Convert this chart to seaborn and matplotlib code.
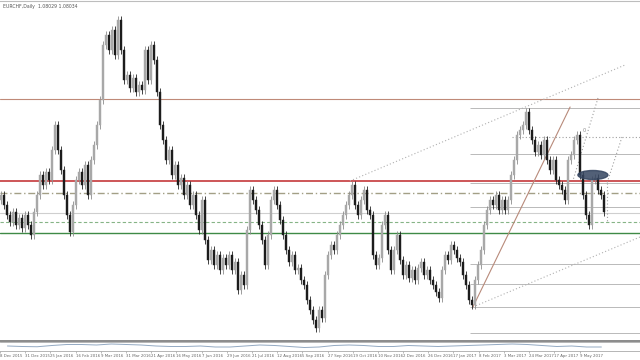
import numpy as np
import pandas as pd
import matplotlib
matplotlib.use("Agg")
import matplotlib.pyplot as plt
from matplotlib.patches import Ellipse
import seaborn as sns

# ---------------- data ----------------
symbol_title = "EURCHF,Daily  1.08029 1.08034"

# closes (one bar every two sessions), in 1e-4 price units
close_pips = [
    10840, 10820, 10800, 10786, 10806, 10780, 10794, 10774, 10800, 10780,
    10760, 10806, 10840, 10880, 10860, 10886, 10870, 10930, 10980, 10930,
    10890, 10840, 10800, 10766, 10820, 10870, 10886, 10860, 10900, 10840,
    10910, 10940, 10980, 11030, 11140, 11160, 11130, 11170, 11120, 11190,
    11130, 11070, 11080, 11054, 11074, 11046, 11060, 11050, 11130, 11070,
    11140, 11110, 11046, 10980, 10950, 10910, 10930, 10880, 10900, 10860,
    10874, 10840, 10860, 10820, 10840, 10800, 10770, 10830, 10750, 10710,
    10730, 10700, 10720, 10690, 10714, 10700, 10720, 10690, 10706, 10650,
    10680, 10660, 10770, 10850, 10830, 10810, 10780, 10750, 10700, 10760,
    10830, 10850, 10820, 10790, 10760, 10730, 10706, 10720, 10690, 10694,
    10670, 10660, 10630, 10610, 10590, 10574, 10610, 10594, 10680, 10720,
    10740, 10730, 10760, 10780, 10800, 10820, 10840, 10860, 10820, 10800,
    10830, 10850, 10810, 10800, 10720, 10700, 10714, 10780, 10800, 10730,
    10690, 10730, 10760, 10710, 10680, 10700, 10674, 10690, 10670, 10694,
    10706, 10680, 10690, 10670, 10660, 10646, 10634, 10690, 10720, 10710,
    10740, 10730, 10714, 10706, 10680, 10660, 10630, 10620, 10670, 10700,
    10730, 10780, 10810, 10830, 10820, 10840, 10810, 10830, 10810, 10830,
    10880, 10910, 10960, 10970, 10980, 11006, 10970, 10950, 10926, 10940,
    10920, 10950, 10910, 10890, 10910, 10870, 10860, 10850, 10830, 10910,
    10920, 10950, 10960, 10880, 10840, 10800, 10780, 10870, 10874, 10850,
    10840, 10806,
]
first_open = 10830

# oscillator (sub window), one value every five bars
osc_values = [50, 46, 44, 54, 62, 62, 58, 66, 62, 58, 50, 46, 46, 50, 42, 42,
              50, 58, 54, 46, 38, 42, 54, 58, 54, 46, 46, 54, 50, 46, 50, 54,
              58, 62, 66, 62, 54, 46, 50, 42, 42]

# full-width horizontal levels
lvl_brown = 1.1032
lvl_red = 1.0868
lvl_dashdot = 1.0844
lvl_grey = 1.0804
lvl_green_dash = 1.0786
lvl_green = 1.0764

# fibonacci-like grey levels on the right (start bar, levels)
fib_start_bar = 156.3
fib_levels = [1.1014, 1.0922, 1.0864, 1.0816, 1.0702, 1.0662, 1.0616, 1.0564]

# trend lines: ((bar, price), (bar, price))
channel_upper = [(116.3, 1.0868), (208.0, 1.1100)]
channel_lower = [(157.3, 1.0616), (213.0, 1.0756)]
trend_solid = [(157.3, 1.0616), (189.7, 1.1016)]
dotted_a = [(199.0, 1.1034), (190.7, 1.0870)]
dotted_b = [(207.0, 1.0956), (202.0, 1.0864)]
dotted_v = [(202.0, 1.0864), (202.0, 1.0786)]
dotted_h = [(170.3, 1.0956), (213.0, 1.0956)]

ellipse_center = (197.3, 1.0880)
ellipse_size = (10.0, 0.0018)

tick_labels = ["8 Dec 2015", "31 Dec 2015", "25 Jan 2016", "16 Feb 2016", "9 Mar 2016",
               "31 Mar 2016", "21 Apr 2016", "16 May 2016", "7 Jun 2016", "29 Jun 2016",
               "21 Jul 2016", "12 Aug 2016", "5 Sep 2016", "27 Sep 2016", "19 Oct 2016",
               "10 Nov 2016", "2 Dec 2016", "26 Dec 2016", "17 Jan 2017", "8 Feb 2017",
               "3 Mar 2017", "24 Mar 2017", "17 Apr 2017", "9 May 2017"]
tick_bars = [-2.5, 6.0, 14.5, 23.0, 31.5, 39.9, 48.4, 56.9, 65.4, 73.9, 82.4, 90.8,
             99.3, 107.8, 116.3, 124.8, 133.3, 141.7, 150.2, 158.7, 167.2, 175.7,
             184.2, 192.7]

# ---------------- build frame ----------------
close = np.array(close_pips) / 10000.0
opn = np.r_[first_open / 10000.0, close[:-1]]
df = pd.DataFrame({"bar": np.arange(len(close)), "open": opn, "close": close})
df["high"] = df[["open", "close"]].max(axis=1) + 0.0008
df["low"] = df[["open", "close"]].min(axis=1) - 0.0008
df["up"] = df["close"] >= df["open"]

osc_df = pd.DataFrame({"bar": np.arange(len(osc_values)) * 5, "osc": osc_values})

# ---------------- plot ----------------
sns.set_theme(style="white")
plt.rcParams["font.family"] = ["DejaVu Sans"]

fig = plt.figure(figsize=(6.4, 3.6), dpi=100)
fig.patch.set_facecolor("white")
ax = fig.add_axes([0, 19 / 360, 1, 340 / 360])
axo = fig.add_axes([0, 9 / 360, 1, 9 / 360])

xlim = (-1 / 3, 213.0)
ax.set_xlim(*xlim)
ax.set_ylim(1.0548, 1.1228)

# horizontal levels
ax.axhline(lvl_brown, color="#bf8a78", lw=0.8, zorder=1)
ax.axhline(lvl_red, color="#c9484a", lw=1.3, zorder=1)
ax.axhline(lvl_dashdot, color="#a39f86", lw=1.0, ls=(0, (5, 2, 1, 2)), zorder=1)
ax.axhline(lvl_grey, color="#cfcfcf", lw=0.8, zorder=1)
ax.axhline(lvl_green_dash, color="#86b486", lw=0.8, ls=(0, (3, 2)), zorder=1)
ax.axhline(lvl_green, color="#3f8a46", lw=1.0, zorder=1)

for lv in fib_levels:
    ax.hlines(lv, fib_start_bar, xlim[1], color="#b9b9b9", lw=0.7, zorder=1)

# trend lines
def seg(pts, **kw):
    d = pd.DataFrame(pts, columns=["bar", "price"])
    sns.lineplot(data=d, x="bar", y="price", ax=ax, sort=False, estimator=None, legend=False, **kw)

seg(channel_upper, color="#b0b0b0", lw=0.8, linestyle=(0, (1, 2)))
seg(channel_lower, color="#b0b0b0", lw=0.8, linestyle=(0, (1, 2)))
seg(trend_solid, color="#b88a7a", lw=0.8)
seg(dotted_a, color="#a0a0a0", lw=0.8, linestyle=(0, (1, 2)))
seg(dotted_b, color="#a0a0a0", lw=0.8, linestyle=(0, (1, 2)))
seg(dotted_v, color="#a0a0a0", lw=0.8, linestyle=(0, (1, 2)))
seg(dotted_h, color="#a0a0a0", lw=0.8, linestyle=(0, (1, 2)))

# candles
wick_col = np.where(df["up"], "#8c8c8c", "#222222")
body_col = np.where(df["up"], "#a8a8a8", "#1c1c1c")
ax.vlines(df["bar"], df["low"], df["high"], colors=wick_col, lw=0.6, zorder=3)
heights = (df["close"] - df["open"]).where((df["close"] - df["open"]).abs() > 0.0001, 0.0001)
ax.bar(df["bar"], heights, bottom=df["open"], width=0.8, color=body_col,
       edgecolor=body_col, linewidth=0.3, zorder=4)

# ellipse marker
ax.add_patch(Ellipse(ellipse_center, ellipse_size[0], ellipse_size[1],
                     facecolor="#34445f", edgecolor="#34445f", alpha=0.85, zorder=5))
ax.text(194.0, 1.0966, "0", fontsize=3.5, color="#888888")

# title
ax.text(0.004, 0.992, symbol_title, transform=ax.transAxes, fontsize=3.3,
        color="#555555", va="top", ha="left")

ax.set_xticks([])
ax.set_yticks([])
ax.set_xlabel("")
ax.set_ylabel("")
for s in ["left", "right"]:
    ax.spines[s].set_visible(False)
ax.spines["top"].set_color("#bdbdbd")
ax.spines["bottom"].set_color("#777777")
ax.spines["top"].set_linewidth(0.8)
ax.spines["bottom"].set_linewidth(1.2)

# oscillator
sns.lineplot(data=osc_df, x="bar", y="osc", ax=axo, color="#93a9c2", lw=0.7)
axo.set_xlim(*xlim)
axo.set_ylim(10, 82)
axo.set_yticks([])
axo.set_ylabel("")
axo.set_xlabel("")
axo.set_xticks(tick_bars)
axo.set_xticklabels(tick_labels)
axo.tick_params(axis="x", labelsize=2.8, labelcolor="#666666", length=1.5, width=0.4,
                color="#888888", pad=0.8, bottom=True)
for lbl in axo.get_xticklabels():
    lbl.set_horizontalalignment("left")
for s in ["left", "right"]:
    axo.spines[s].set_visible(False)
axo.spines["top"].set_color("#aaaaaa")
axo.spines["bottom"].set_color("#aaaaaa")
axo.spines["top"].set_linewidth(0.6)
axo.spines["bottom"].set_linewidth(0.6)

fig.savefig("out.png", dpi=100, facecolor="white")
